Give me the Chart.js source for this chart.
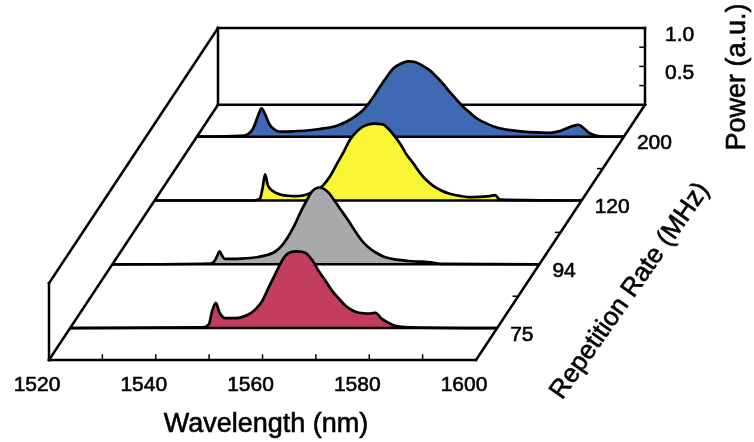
<!DOCTYPE html>
<html>
<head>
<meta charset="utf-8">
<script src="https://cdn.jsdelivr.net/npm/chart.js@4.4.0/dist/chart.umd.min.js"></script>
<style>
  html, body { margin: 0; padding: 0; background: #fff; }
  #wrap { width: 754px; height: 442px; }
</style>
</head>
<body>
<div id="wrap"><canvas id="waterfall"></canvas></div>
<script>
// Repetition rates (front to back) and their spectra
const rates = ['75', '94', '120', '200'];
const colors = ['#c23d5e', '#a9a9ab', '#f7f534', '#3f69b2'];

const wl75 = [1520, 1544.7, 1546, 1546.6, 1547.3, 1548, 1549.1, 1551, 1553.5, 1554.8, 1556, 1557.2, 1558.4, 1559.4, 1560.3, 1561.4, 1562.5, 1564.1, 1565.4, 1566.6, 1567.9, 1569.1, 1570.4, 1571.6, 1572.9, 1574.1, 1576.2, 1577.2, 1578.4, 1579.6, 1580.9, 1584, 1600];
const p75 = [0, 0.01, 0.05, 0.22, 0.33, 0.2, 0.13, 0.13, 0.18, 0.25, 0.355, 0.53, 0.7, 0.84, 0.94, 0.99, 1.0, 0.98, 0.88, 0.74, 0.61, 0.485, 0.38, 0.29, 0.23, 0.2, 0.19, 0.2, 0.12, 0.07, 0.03, 0.01, 0];

const wl94 = [1520, 1538.5, 1539.2, 1539.7, 1540.1, 1540.5, 1541, 1542.5, 1544.2, 1545.8, 1547.3, 1549, 1550.4, 1551.7, 1552.9, 1554.2, 1555.4, 1556.4, 1557.3, 1558.8, 1560.4, 1561.6, 1562.9, 1564.2, 1565.4, 1566.6, 1567.9, 1569.4, 1571, 1573.2, 1575.4, 1577.3, 1579.1, 1581.6, 1600];
const p94 = [0, 0.01, 0.05, 0.12, 0.17, 0.12, 0.07, 0.07, 0.074, 0.082, 0.095, 0.12, 0.16, 0.24, 0.355, 0.52, 0.7, 0.83, 0.94, 1.0, 0.94, 0.83, 0.7, 0.57, 0.44, 0.32, 0.225, 0.15, 0.095, 0.06, 0.043, 0.035, 0.03, 0.005, 0];

const wl120 = [1520, 1538.5, 1539.7, 1540.2, 1540.7, 1541.2, 1542.2, 1543.5, 1545, 1546.3, 1547.5, 1548.5, 1550, 1551.6, 1552.9, 1554.1, 1555.4, 1556.6, 1557.9, 1559.1, 1561, 1562.8, 1563.7, 1564.7, 1566, 1567.2, 1568.5, 1569.7, 1571, 1572.2, 1573.7, 1575.3, 1577.2, 1579.1, 1581, 1582.8, 1583.8, 1584.7, 1600];
const p120 = [0, 0, 0.02, 0.15, 0.34, 0.2, 0.12, 0.078, 0.062, 0.056, 0.062, 0.078, 0.12, 0.2, 0.32, 0.47, 0.63, 0.79, 0.9, 0.965, 1.0, 0.99, 0.94, 0.86, 0.74, 0.6, 0.48, 0.36, 0.26, 0.19, 0.13, 0.087, 0.06, 0.043, 0.048, 0.056, 0.07, 0.01, 0];

const wl200 = [1520, 1528, 1529.5, 1530.5, 1531.5, 1532.1, 1532.8, 1533.6, 1534.6, 1535.6, 1538, 1540.6, 1543, 1544.9, 1546.5, 1548, 1549.6, 1551.2, 1552.8, 1554.3, 1555.6, 1556.8, 1558.2, 1559.6, 1561, 1562.4, 1563.7, 1564.9, 1566.1, 1567.4, 1568.7, 1569.9, 1571.2, 1572.4, 1574.3, 1576.2, 1578.7, 1581.2, 1583.7, 1586.2, 1587.8, 1589.3, 1590.5, 1591.5, 1592.5, 1593.6, 1595.5, 1600];
const p200 = [0, 0.01, 0.03, 0.1, 0.28, 0.37, 0.29, 0.16, 0.09, 0.065, 0.07, 0.08, 0.1, 0.12, 0.15, 0.195, 0.26, 0.35, 0.49, 0.65, 0.78, 0.89, 0.95, 0.98, 0.97, 0.92, 0.86, 0.78, 0.69, 0.58, 0.48, 0.39, 0.31, 0.24, 0.17, 0.12, 0.085, 0.065, 0.055, 0.05, 0.07, 0.11, 0.14, 0.155, 0.11, 0.045, 0.005, 0];

const wavelengths = [wl75, wl94, wl120, wl200];
const powers = [p75, p94, p120, p200];

// Axis ticks
const wlTicks = [1520, 1540, 1560, 1580, 1600];
const wlMinor = [1530, 1540, 1550, 1560, 1570, 1580, 1590];
const powerTicks = [0.25, 0.5, 0.75];
const powerLabels = [1.0, 0.5];

// Oblique projection: depth 0..1 shifts the trace right and up
const WL_MIN = 1520, WL_MAX = 1600;
const DEPTH_DX = 31.66;   // nm of x shift for full depth
const DEPTH_DY = 3.325;   // power units of y shift for full depth
const FONT = "'Liberation Sans', Arial, sans-serif";

function depthOf(i) {
  return 0.125 + 0.25 * i;
}

function proj(chart, wl, t, p) {
  const xs = chart.scales.x, ys = chart.scales.y;
  return { x: xs.getPixelForValue(wl + DEPTH_DX * t), y: ys.getPixelForValue(p + DEPTH_DY * t) };
}

function line(ctx, a, b) {
  ctx.beginPath();
  ctx.moveTo(a.x, a.y);
  ctx.lineTo(b.x, b.y);
  ctx.stroke();
}

// scanned-looking text: fill plus a thin stroke
function text(ctx, s, x, y) {
  ctx.fillText(s, x, y);
  ctx.strokeText(s, x, y);
}

// Box frame, ticks and labels
const boxPlugin = {
  id: 'box3d',
  beforeDatasetsDraw(chart) {
    const ctx = chart.ctx;
    const P = (wl, t, p) => proj(chart, wl, t, p);
    ctx.save();
    ctx.strokeStyle = '#000';
    ctx.lineWidth = 2.5;
    ctx.lineCap = 'square';
    // back wall
    line(ctx, P(WL_MIN, 1, 1), P(WL_MAX, 1, 1));
    line(ctx, P(WL_MIN, 1, 0), P(WL_MAX, 1, 0));
    line(ctx, P(WL_MIN, 1, 0), P(WL_MIN, 1, 1));
    line(ctx, P(WL_MAX, 1, 0), P(WL_MAX, 1, 1));
    // left side
    line(ctx, P(WL_MIN, 0, 0), P(WL_MIN, 0, 1));
    line(ctx, P(WL_MIN, 0, 1), P(WL_MIN, 1, 1));
    line(ctx, P(WL_MIN, 0, 0), P(WL_MIN, 1, 0));
    // wavelength and depth axes
    line(ctx, P(WL_MIN, 0, 0), P(WL_MAX, 0, 0));
    line(ctx, P(WL_MAX, 0, 0), P(WL_MAX, 1, 0));

    ctx.lineWidth = 1.5;
    wlMinor.forEach(w => {
      const a = P(w, 0, 0);
      line(ctx, a, { x: a.x, y: a.y - 5 });
    });
    powerTicks.forEach(v => {
      const a = P(WL_MAX, 1, v);
      line(ctx, a, { x: a.x - 5, y: a.y });
    });
    [0.25, 0.5, 0.75].forEach(t => {
      const a = P(WL_MAX, t, 0);
      line(ctx, a, { x: a.x - 5, y: a.y });
    });
    ctx.restore();
  },
  // baseline of each trace, drawn right after that trace so nearer traces cover it
  afterDatasetDraw(chart, args) {
    const ctx = chart.ctx;
    const t = depthOf(args.index);
    ctx.save();
    ctx.strokeStyle = '#000';
    ctx.lineWidth = 2.5;
    line(ctx, proj(chart, WL_MIN, t, 0), proj(chart, WL_MAX, t, 0));
    ctx.restore();
  },
  afterDatasetsDraw(chart) {
    const ctx = chart.ctx;
    const P = (wl, t, p) => proj(chart, wl, t, p);
    ctx.save();
    ctx.fillStyle = '#000';
    ctx.strokeStyle = '#000';
    ctx.lineWidth = 0.6;
    ctx.font = `21px ${FONT}`;
    ctx.textBaseline = 'middle';

    ctx.textAlign = 'center';
    wlTicks.forEach(w => {
      const a = P(w, 0, 0);
      text(ctx, String(w), a.x - 12, a.y + 25);
    });

    ctx.textAlign = 'left';
    rates.forEach((r, i) => {
      const a = P(WL_MAX, depthOf(i), 0);
      text(ctx, r, a.x + 13, a.y + 7);
    });
    powerLabels.forEach(v => {
      const a = P(WL_MAX, 1, v);
      text(ctx, v.toFixed(1), a.x + 20, a.y + 7);
    });

    ctx.font = `27px ${FONT}`;
    ctx.textAlign = 'center';
    text(ctx, 'Wavelength (nm)', 266, 425);

    ctx.save();
    ctx.translate(738, 77);
    ctx.rotate(-Math.PI / 2);
    text(ctx, 'Power (a.u.)', 0, 0);
    ctx.restore();

    ctx.save();
    ctx.font = `26px ${FONT}`;
    ctx.translate(630, 291);
    ctx.rotate(-55 * Math.PI / 180);
    text(ctx, 'Repetition Rate (MHz)', 0, 0);
    ctx.restore();
    ctx.restore();
  }
};

// One filled trace per repetition rate, shifted back by its depth
const datasets = rates.map((r, i) => {
  const t = depthOf(i);
  return {
    label: r + ' MHz',
    data: wavelengths[i].map((w, k) => ({ x: w + DEPTH_DX * t, y: powers[i][k] + DEPTH_DY * t })),
    borderColor: '#000',
    borderWidth: 2.7,
    backgroundColor: colors[i],
    fill: { value: DEPTH_DY * t },
    pointRadius: 0,
    cubicInterpolationMode: 'monotone'
  };
});

new Chart(document.getElementById('waterfall'), {
  type: 'line',
  data: { datasets },
  options: {
    responsive: true,
    maintainAspectRatio: false,
    animation: false,
    devicePixelRatio: 1,
    layout: { padding: { left: 49, right: 109, top: 28, bottom: 82 } },
    scales: {
      x: { type: 'linear', display: false, min: WL_MIN, max: WL_MAX + DEPTH_DX },
      y: { type: 'linear', display: false, min: 0, max: 1 + DEPTH_DY }
    },
    plugins: {
      legend: { display: false },
      tooltip: { enabled: false }
    }
  },
  plugins: [boxPlugin]
});
</script>
</body>
</html>
